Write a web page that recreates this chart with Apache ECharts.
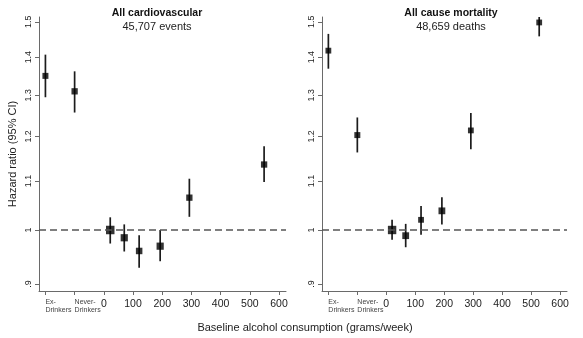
<!DOCTYPE html>
<html>
<head>
<meta charset="utf-8">
<script src="https://cdn.jsdelivr.net/npm/echarts@6/dist/echarts.min.js"></script>
<style>
  html, body { margin: 0; padding: 0; background: #fff; }
  #chart { width: 583px; height: 338px; }
</style>
</head>
<body>
<div id="chart"></div>
<script>
// ---- Data: hazard ratios with 95% CI ----
// Non-drinker comparison groups
const groupLabels = ['Ex-\nDrinkers', 'Never-\nDrinkers'];

// All cardiovascular (45,707 events)
const cvdGroupHR = [1.350, 1.310];
const cvdGroupLo = [1.295, 1.257];
const cvdGroupHi = [1.407, 1.362];
const cvdIntake  = [22, 70, 121, 193, 293, 549];          // grams/week
const cvdHR      = [1.000, 0.985, 0.960, 0.969, 1.065, 1.136];
const cvdLo      = [0.974, 0.959, 0.929, 0.941, 1.026, 1.098];
const cvdHi      = [1.025, 1.011, 0.990, 1.000, 1.105, 1.177];

// All cause mortality (48,659 deaths)
const mortGroupHR = [1.418, 1.203];
const mortGroupLo = [1.369, 1.163];
const mortGroupHi = [1.465, 1.245];
const mortIntake  = [20, 67, 120, 192, 292, 528];         // grams/week
const mortHR      = [1.000, 0.989, 1.020, 1.038, 1.214, 1.498];
const mortLo      = [0.981, 0.967, 0.991, 1.011, 1.170, 1.458];
const mortHi      = [1.020, 1.012, 1.048, 1.066, 1.256, 1.540];

// Tick labels
const intakeTicks  = [0, 100, 200, 300, 400, 500, 600];
const hrTicks      = [0.9, 1.0, 1.1, 1.2, 1.3, 1.4, 1.5];
const hrTickLabels = ['.9', '1', '1.1', '1.2', '1.3', '1.4', '1.5'];

// ---- Layout / style ----
const FONT = '"Liberation Sans", Arial, sans-serif';
const GROUP_SLOTS = [-200, -100];        // x-scale slots for the non-drinker groups
const X_MIN = -222, X_MAX = 624;
const Y_MIN = 0.888, Y_MAX = 1.514;
const AXIS_COLOR = '#6a6a6a';
const TEXT_COLOR = '#222';
// marker side lengths (px), in plotting order: groups then intake levels
const cvdMarkerPx  = [6, 6.3, 8.5, 7.2, 6.5, 7.2, 6.3, 6.3];
const mortMarkerPx = [5.8, 6, 8.4, 6.8, 5.8, 6.8, 5.8, 5.8];

function buildPoints(gHR, gLo, gHi, xs, hr, lo, hi) {
  const pts = [];
  gHR.forEach((v, i) => pts.push([GROUP_SLOTS[i], v, gLo[i], gHi[i]]));
  xs.forEach((x, i) => pts.push([x, hr[i], lo[i], hi[i]]));
  return pts;
}

function panelSeries(idx, pts, sizes) {
  return [
    {
      type: 'custom',
      xAxisIndex: idx * 2,
      yAxisIndex: idx,
      clip: true,
      data: pts,
      encode: { x: 0, y: [2, 3] },
      renderItem(params, api) {
        const x = api.value(0);
        const a = api.coord([x, api.value(2)]);
        const b = api.coord([x, api.value(3)]);
        return {
          type: 'line',
          shape: { x1: a[0], y1: a[1], x2: b[0], y2: b[1] },
          style: { stroke: '#1c1c1c', lineWidth: 1.7 }
        };
      },
      z: 2
    },
    {
      type: 'scatter',
      xAxisIndex: idx * 2,
      yAxisIndex: idx,
      data: pts.map(p => [p[0], p[1]]),
      symbol: 'rect',
      symbolSize: (val, p) => sizes[p.dataIndex],
      itemStyle: { color: '#000' },
      z: 3,
      markLine: {
        silent: true,
        symbol: 'none',
        label: { show: false },
        animation: false,
        lineStyle: { type: [7, 4], color: '#555', width: 1.5 },
        data: [{ yAxis: 1 }]
      }
    }
  ];
}

function xAxes(gridIndex) {
  return [
    {
      type: 'value', gridIndex, min: X_MIN, max: X_MAX, position: 'bottom',
      splitLine: { show: false },
      axisLine: { onZero: false, lineStyle: { color: AXIS_COLOR, width: 1 } },
      axisTick: { customValues: GROUP_SLOTS.concat(intakeTicks), length: 4, lineStyle: { color: AXIS_COLOR } },
      axisLabel: { customValues: intakeTicks, fontSize: 10.5, color: TEXT_COLOR, margin: 8, fontFamily: FONT }
    },
    {
      type: 'value', gridIndex, min: X_MIN, max: X_MAX, position: 'bottom',
      splitLine: { show: false },
      axisLine: { show: false, onZero: false },
      axisTick: { show: false },
      axisLabel: {
        customValues: GROUP_SLOTS,
        formatter: v => groupLabels[GROUP_SLOTS.indexOf(v)],
        align: 'left', fontSize: 7, lineHeight: 7.8, color: '#444', margin: 7, fontFamily: FONT
      }
    }
  ];
}

function yAxis(gridIndex, name) {
  return {
    type: 'log', logBase: 10, gridIndex, min: Y_MIN, max: Y_MAX, position: 'left',
    name, nameLocation: 'middle', nameGap: 21,
    nameTextStyle: { fontSize: 11, color: TEXT_COLOR, fontFamily: FONT },
    splitLine: { show: false },
    axisLine: { show: true, onZero: false, lineStyle: { color: AXIS_COLOR, width: 1 } },
    axisTick: { show: true, customValues: hrTicks, length: 4, lineStyle: { color: AXIS_COLOR } },
    axisLabel: {
      customValues: hrTicks, rotate: 90, margin: 6, fontSize: 8.8, color: TEXT_COLOR, fontFamily: FONT,
      formatter: v => {
        const i = hrTicks.findIndex(t => Math.abs(t - v) < 1e-6);
        return i >= 0 ? hrTickLabels[i] : '';
      }
    }
  };
}

const cvdPts  = buildPoints(cvdGroupHR, cvdGroupLo, cvdGroupHi, cvdIntake, cvdHR, cvdLo, cvdHi);
const mortPts = buildPoints(mortGroupHR, mortGroupLo, mortGroupHi, mortIntake, mortHR, mortLo, mortHi);

const chart = echarts.init(document.getElementById('chart'), null, { renderer: 'canvas' });
chart.setOption({
  animation: false,
  backgroundColor: '#fff',
  textStyle: { fontFamily: FONT },
  title: [
    {
      text: 'All cardiovascular', subtext: '45,707 events',
      left: 157, top: 8, textAlign: 'center', padding: 0, itemGap: 2,
      textStyle: { fontSize: 10.5, fontWeight: 'bold', color: '#111', fontFamily: FONT },
      subtextStyle: { fontSize: 11, color: TEXT_COLOR, fontFamily: FONT }
    },
    {
      text: 'All cause mortality', subtext: '48,659 deaths',
      left: 451, top: 8, textAlign: 'center', padding: 0, itemGap: 2,
      textStyle: { fontSize: 10.5, fontWeight: 'bold', color: '#111', fontFamily: FONT },
      subtextStyle: { fontSize: 11, color: TEXT_COLOR, fontFamily: FONT }
    },
    {
      text: 'Baseline alcohol consumption (grams/week)',
      left: 305, top: 322, textAlign: 'center', padding: 0,
      textStyle: { fontSize: 11, fontWeight: 'normal', color: TEXT_COLOR, fontFamily: FONT }
    }
  ],
  grid: [
    { left: 39, right: 297, top: 17, bottom: 47 },
    { left: 322, right: 16, top: 17, bottom: 47 }
  ],
  xAxis: xAxes(0).concat(xAxes(1)),
  yAxis: [yAxis(0, 'Hazard ratio (95% CI)'), yAxis(1, '')],
  series: panelSeries(0, cvdPts, cvdMarkerPx).concat(panelSeries(1, mortPts, mortMarkerPx))
});
</script>
</body>
</html>
